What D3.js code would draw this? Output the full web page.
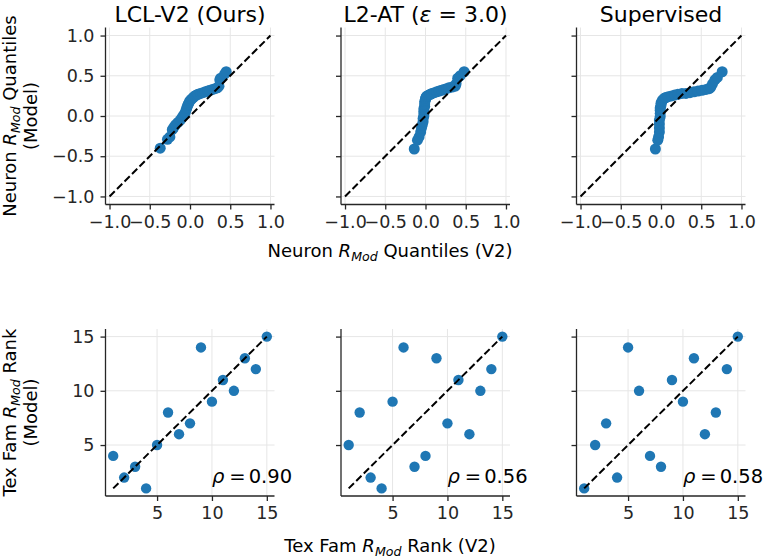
<!DOCTYPE html>
<html>
<head>
<meta charset="utf-8">
<script src="https://cdn.jsdelivr.net/npm/d3@7/dist/d3.min.js"></script>
<style>
  html, body { margin: 0; padding: 0; background: #fff; }
  svg { display: block; font-family: "DejaVu Sans", sans-serif; }
</style>
</head>
<body>
<svg id="chart" width="763" height="558"></svg>
<script>
// ---------------- DATA ----------------
const panelTitles = ["LCL-V2 (Ours)", "L2-AT", "Supervised"];

// Quantile-quantile points (x: V2 quantiles, y: model quantiles)
const qqX_LCL = [-0.37,-0.28,-0.25,-0.22,-0.20,-0.18,-0.15,-0.12,-0.10,-0.08,-0.06,-0.05,-0.04,-0.03,-0.02,-0.01,0.00,0.02,0.04,0.06,0.08,0.10,0.13,0.16,0.19,0.22,0.25,0.28,0.31,0.34,0.36,0.37,0.38,0.43,0.45];
const qqY_LCL = [-0.40,-0.29,-0.26,-0.17,-0.14,-0.11,-0.08,-0.05,-0.02,0.01,0.04,0.07,0.10,0.13,0.15,0.17,0.19,0.21,0.23,0.25,0.26,0.27,0.28,0.29,0.30,0.31,0.32,0.33,0.34,0.35,0.37,0.45,0.47,0.52,0.55];

const qqX_L2AT = [-0.14,-0.10,-0.08,-0.06,-0.05,-0.04,-0.03,-0.03,-0.02,-0.02,-0.02,-0.02,-0.01,-0.01,-0.01,0.00,0.00,0.01,0.02,0.04,0.06,0.08,0.11,0.14,0.17,0.20,0.23,0.26,0.29,0.33,0.37,0.38,0.40,0.43,0.48];
const qqY_L2AT = [-0.41,-0.30,-0.26,-0.20,-0.15,-0.11,-0.07,-0.03,0.00,0.03,0.06,0.09,0.12,0.15,0.18,0.20,0.22,0.24,0.25,0.26,0.27,0.28,0.29,0.30,0.31,0.32,0.33,0.34,0.35,0.36,0.37,0.40,0.47,0.50,0.55];

const qqX_Sup = [-0.07,-0.04,-0.03,-0.02,-0.02,-0.02,-0.02,-0.01,-0.01,-0.01,-0.01,0.00,0.00,0.01,0.02,0.04,0.06,0.09,0.13,0.17,0.21,0.26,0.31,0.36,0.41,0.46,0.51,0.56,0.60,0.62,0.64,0.67,0.70,0.76];
const qqY_Sup = [-0.41,-0.30,-0.26,-0.20,-0.15,-0.10,-0.05,-0.01,0.03,0.07,0.10,0.13,0.16,0.18,0.20,0.22,0.23,0.24,0.25,0.26,0.27,0.28,0.28,0.29,0.30,0.31,0.32,0.33,0.34,0.36,0.40,0.45,0.48,0.55];

// Texture family rank points (x: V2 rank, y: model rank)
const rankX = [1,2,3,4,5,6,7,8,9,10,11,12,13,14,15];
const rankY_LCL  = [4,2,3,1,5,8,6,7,14,9,11,10,13,12,15];
const rankY_L2AT = [5,8,2,1,9,14,3,4,13,7,11,6,10,12,15];
const rankY_Sup  = [1,5,7,2,14,10,4,3,11,9,13,6,8,12,15];
const rhoValues = ["0.90", "0.56", "0.58"];
const rhoAnchor = [10, 1.5];   // data position of the rho annotation

const qqTicks = [-1.0, -0.5, 0.0, 0.5, 1.0];
const rankTicks = [5, 10, 15];
const qqDomain = [-1.05, 1.05];
const qqYDomain = [-1.1, 1.1];
const rankDomain = [0.3, 15.7];

// ---------------- LAYOUT ----------------
const svg = d3.select("#chart");
const panelLeft = [105.5, 341, 576.5];
const panelW = 169;
const topRow = {y0: 27.5, y1: 204.5};
const botRow = {y0: 329, y1: 496};
const blue = "#1f77b4";
const spineColor = "#262626";
const gridColor = "#e6e6e6";
const tickFont = 17.5;

const qqData = [
  qqX_LCL.map((d, i) => [d, qqY_LCL[i]]),
  qqX_L2AT.map((d, i) => [d, qqY_L2AT[i]]),
  qqX_Sup.map((d, i) => [d, qqY_Sup[i]])
];
const rankData = [
  rankX.map((d, i) => [d, rankY_LCL[i]]),
  rankX.map((d, i) => [d, rankY_L2AT[i]]),
  rankX.map((d, i) => [d, rankY_Sup[i]])
];

function drawPanel(i, row, data, xDom, yDom, ticks, fmt, showY, diag, r) {
  const x = d3.scaleLinear().domain(xDom).range([panelLeft[i], panelLeft[i] + panelW]);
  const y = d3.scaleLinear().domain(yDom).range([row.y1, row.y0]);
  const g = svg.append("g");

  g.selectAll(".gx").data(ticks).join("line")
    .attr("x1", d => x(d)).attr("x2", d => x(d))
    .attr("y1", row.y0).attr("y2", row.y1)
    .attr("stroke", gridColor).attr("stroke-width", 1);
  g.selectAll(".gy").data(ticks).join("line")
    .attr("y1", d => y(d)).attr("y2", d => y(d))
    .attr("x1", x.range()[0]).attr("x2", x.range()[1])
    .attr("stroke", gridColor).attr("stroke-width", 1);

  g.selectAll("circle").data(data).join("circle")
    .attr("cx", d => x(d[0])).attr("cy", d => y(d[1]))
    .attr("r", r).attr("fill", blue);

  g.append("line")
    .attr("x1", x(diag[0])).attr("y1", y(diag[0]))
    .attr("x2", x(diag[1])).attr("y2", y(diag[1]))
    .attr("stroke", "#000").attr("stroke-width", 2)
    .attr("stroke-dasharray", "7.4,3.2");

  const ax = g.append("g").attr("transform", `translate(0,${row.y1})`)
    .call(d3.axisBottom(x).tickValues(ticks).tickFormat(fmt).tickSize(5).tickPadding(6));
  const ay = g.append("g").attr("transform", `translate(${x.range()[0]},0)`)
    .call(d3.axisLeft(y).tickValues(ticks).tickFormat(fmt).tickSize(5).tickPadding(6));
  [ax, ay].forEach(a => {
    a.select(".domain").remove();
    a.selectAll(".tick line").attr("stroke", spineColor).attr("stroke-width", 1.3);
    a.selectAll(".tick text").attr("fill", "#262626").attr("font-size", tickFont)
      .attr("font-family", "DejaVu Sans");
  });
  if (!showY) ay.selectAll(".tick text").remove();
  g.append("line").attr("x1", x.range()[0]).attr("x2", x.range()[1])
    .attr("y1", row.y1).attr("y2", row.y1).attr("stroke", spineColor).attr("stroke-width", 1.3);
  g.append("line").attr("x1", x.range()[0]).attr("x2", x.range()[0])
    .attr("y1", row.y0).attr("y2", row.y1).attr("stroke", spineColor).attr("stroke-width", 1.3);
  return {x, y, g};
}

const f1 = d3.format(".1f");
const f0 = d3.format("d");

for (let i = 0; i < 3; i++) {
  drawPanel(i, topRow, qqData[i], qqDomain, qqYDomain, qqTicks, f1, i === 0, [-1, 1], 5.5);
  const p = drawPanel(i, botRow, rankData[i], rankDomain, rankDomain, rankTicks, f0, i === 0, [1, 15], 5.2);
  const t = p.g.append("text")
    .attr("x", p.x(rhoAnchor[0])).attr("y", p.y(rhoAnchor[1]))
    .attr("text-anchor", "start").attr("font-size", 19.5).attr("fill", "#000");
  t.append("tspan").attr("font-style", "italic").text("ρ");
  t.append("tspan").attr("dx", 5).text("=");
  t.append("tspan").attr("dx", 3).text(rhoValues[i]);
}

const titleY = 22;
panelTitles.forEach((tt, i) => {
  const t = svg.append("text")
    .attr("x", panelLeft[i] + panelW / 2).attr("y", titleY)
    .attr("text-anchor", "middle").attr("font-size", 22).attr("fill", "#000");
  if (i === 1) {
    t.append("tspan").text(tt + " (");
    t.append("tspan").attr("font-style", "italic").text("ε");
    t.append("tspan").text(" = 3.0)");
  } else {
    t.text(tt);
  }
});

// label text: pre + italic R + subscript Mod + post
function labelSpans(t, size, pre, post) {
  const shift = size * 0.22;
  t.append("tspan").text(pre);
  t.append("tspan").attr("font-style", "italic").text("R");
  t.append("tspan").attr("font-style", "italic").attr("font-size", size * 0.7)
    .attr("dy", shift).text("Mod");
  t.append("tspan").attr("dy", -shift).text(post);
}
const labelSize = 18;
const xLabelCenter = 390;
function xLabel(pre, post, yPos) {
  const t = svg.append("text")
    .attr("x", xLabelCenter).attr("y", yPos)
    .attr("text-anchor", "middle").attr("font-size", labelSize).attr("fill", "#000");
  labelSpans(t, labelSize, pre, post);
}
xLabel("Neuron ", " Quantiles (V2)", 257);
xLabel("Tex Fam ", " Rank (V2)", 552);

function yLabel(pre, post, cy) {
  const g = svg.append("g").attr("transform", `translate(0,${cy}) rotate(-90)`);
  const t = g.append("text").attr("x", 0).attr("y", 16)
    .attr("text-anchor", "middle").attr("font-size", labelSize).attr("fill", "#000");
  labelSpans(t, labelSize, pre, post);
  g.append("text").attr("x", 0).attr("y", 36.5)
    .attr("text-anchor", "middle").attr("font-size", labelSize).attr("fill", "#000")
    .text("(Model)");
}
yLabel("Neuron ", " Quantiles", (topRow.y0 + topRow.y1) / 2);
yLabel("Tex Fam ", " Rank", (botRow.y0 + botRow.y1) / 2);
</script>
</body>
</html>
